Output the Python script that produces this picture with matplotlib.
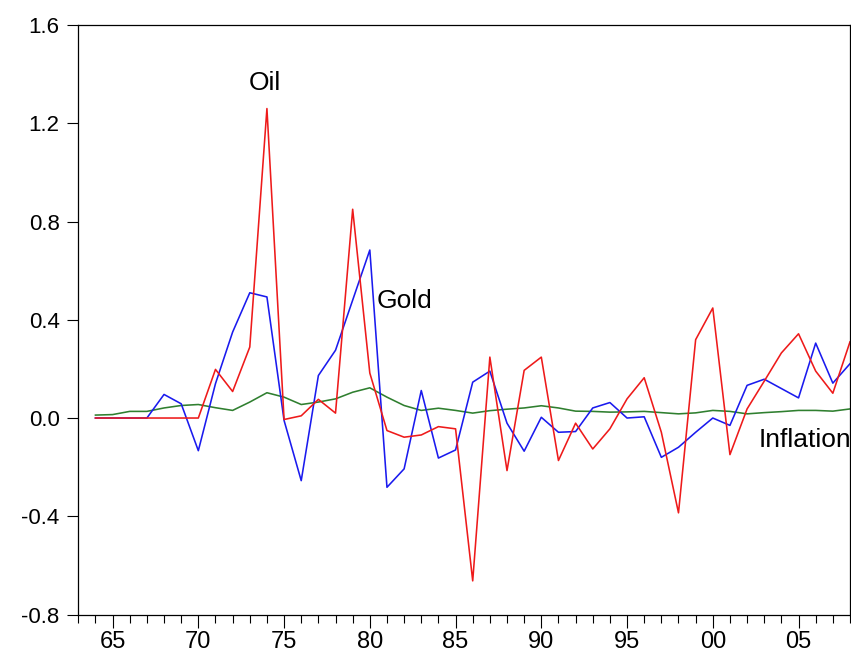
import numpy as np
import matplotlib
matplotlib.use("Agg")
import matplotlib.pyplot as plt
from matplotlib.ticker import MultipleLocator, FuncFormatter

plt.rcParams['font.family'] = ['Liberation Sans', 'DejaVu Sans']

years = list(range(1964, 2009))

# annual changes
oil = [0.0, 0.0, 0.0, 0.0, 0.0, 0.0, 0.0, 0.198, 0.108, 0.289,
       1.26, -0.006, 0.009, 0.076, 0.02, 0.85, 0.183, -0.051, -0.078, -0.069,
       -0.035, -0.044, -0.663, 0.248, -0.214, 0.194, 0.248, -0.173, -0.021, -0.126,
       -0.044, 0.078, 0.164, -0.058, -0.386, 0.319, 0.448, -0.149, 0.037, 0.15,
       0.265, 0.343, 0.191, 0.101, 0.31]

gold = [0.0, 0.0, 0.0, 0.0, 0.096, 0.058, -0.133, 0.14, 0.35, 0.51,
        0.493, -0.01, -0.255, 0.173, 0.276, 0.48, 0.684, -0.282, -0.207, 0.112,
        -0.163, -0.13, 0.146, 0.191, -0.021, -0.135, 0.003, -0.058, -0.055, 0.041,
        0.063, 0.0, 0.005, -0.16, -0.119, -0.058, 0.0, -0.03, 0.133, 0.158,
        0.12, 0.082, 0.305, 0.142, 0.221]

inflation = [0.012, 0.014, 0.027, 0.027, 0.041, 0.051, 0.055, 0.042, 0.031, 0.065,
             0.103, 0.085, 0.055, 0.065, 0.078, 0.105, 0.123, 0.085, 0.051, 0.031,
             0.04, 0.031, 0.02, 0.03, 0.036, 0.041, 0.05, 0.041, 0.028, 0.027,
             0.024, 0.025, 0.027, 0.022, 0.017, 0.021, 0.031, 0.027, 0.017, 0.022,
             0.026, 0.031, 0.031, 0.028, 0.037]

fig = plt.figure(figsize=(8.51, 6.59), dpi=100)
ax = fig.add_axes([0.092, 0.0675, 0.9068, 0.8945])

ax.plot(years, inflation, color='#2f7f2f', lw=1.15)
ax.plot(years, gold, color='#1a1aee', lw=1.15)
ax.plot(years, oil, color='#ee1a1a', lw=1.15)

ax.set_xlim(1963, 2008)
ax.set_ylim(-0.8, 1.6)
ax.yaxis.set_major_locator(MultipleLocator(0.4))
ax.yaxis.set_major_formatter(FuncFormatter(lambda v, p: '%.1f' % v))
ax.set_xticks(range(1965, 2009, 5))
ax.xaxis.set_minor_locator(MultipleLocator(1))
ax.xaxis.set_major_formatter(FuncFormatter(lambda v, p: '%02d' % (int(round(v)) % 100)))

ax.tick_params(axis='y', which='major', direction='out', length=8, width=0.8,
               labelsize=16, pad=5.5)
ax.tick_params(axis='x', which='major', direction='out', length=9.5, width=0.8,
               labelsize=17, pad=2.5)
ax.tick_params(axis='x', which='minor', direction='out', length=6, width=0.8)
for s in ax.spines.values():
    s.set_linewidth(0.9)

ax.text(1973.9, 1.335, 'Oil', fontsize=19, ha='center', va='baseline')
ax.text(1980.38, 0.447, 'Gold', fontsize=19, ha='left', va='baseline')
ax.text(2002.66, -0.116, 'Inflation', fontsize=19, ha='left', va='baseline')

fig.savefig('out.png', dpi=100)
